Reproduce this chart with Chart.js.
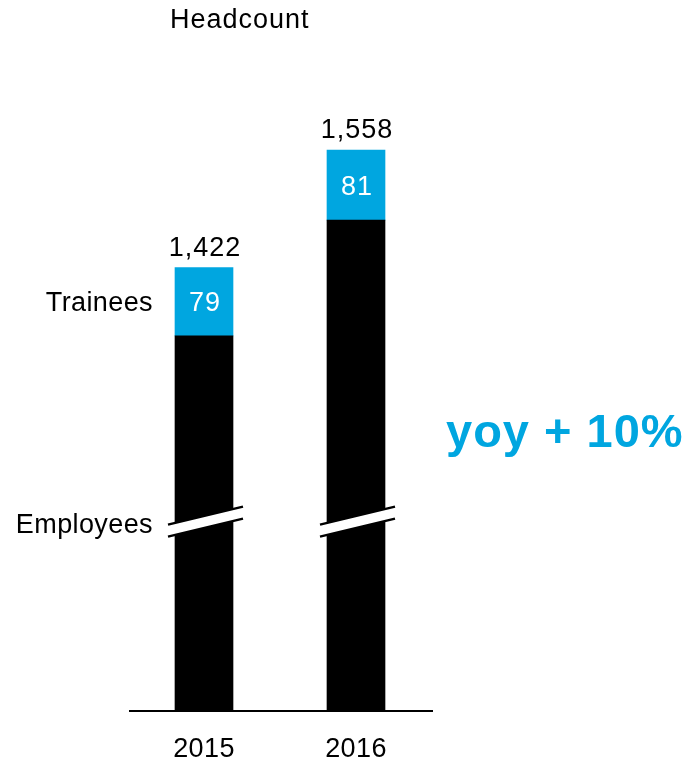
<!DOCTYPE html>
<html>
<head>
<meta charset="utf-8">
<script src="https://cdn.jsdelivr.net/npm/chart.js@4"></script>
<style>
  html, body { margin: 0; padding: 0; background: #fff; }
  #wrap { width: 689px; height: 764px; position: relative; }
</style>
</head>
<body>
<div id="wrap"><canvas id="headcount"></canvas></div>
<script>
const years = ['2015', '2016'];
const employees = [1343, 1477];
const trainees = [79, 81];
const totals = [1422, 1558];
const growthLabel = 'yoy + 10%';

const blue = '#00a6e0';
const font = '"Liberation Sans", Arial, sans-serif';
// axis starts here, the gap below is shown with a break mark
const axisMin = 909;
const axisMax = 1616;
const breakValue = 1127;

const fmt = n => n.toLocaleString('en-US');

const labelsPlugin = {
  id: 'labels',
  afterDatasetsDraw(chart) {
    const ctx = chart.ctx;
    const y = chart.scales.y;
    const area = chart.chartArea;
    const empMeta = chart.getDatasetMeta(0);
    const trMeta = chart.getDatasetMeta(1);
    ctx.save();

    // base line
    ctx.strokeStyle = '#000';
    ctx.lineWidth = 2;
    ctx.beginPath();
    ctx.moveTo(area.left + 1, area.bottom);
    ctx.lineTo(area.right + 1, area.bottom);
    ctx.stroke();

    // axis break over each bar
    const by = y.getPixelForValue(breakValue);
    empMeta.data.forEach(bar => {
      const x0 = bar.x - bar.width / 2 - 7;
      const x1 = bar.x + bar.width / 2 + 10;
      const rise = 18;
      ctx.fillStyle = '#fff';
      ctx.beginPath();
      ctx.moveTo(x0, by + 5 + rise / 2);
      ctx.lineTo(x1, by + 5 - rise / 2);
      ctx.lineTo(x1, by - 7 - rise / 2);
      ctx.lineTo(x0, by - 7 + rise / 2);
      ctx.closePath();
      ctx.fill();
      ctx.strokeStyle = '#000';
      ctx.lineWidth = 2.5;
      ctx.beginPath();
      ctx.moveTo(x0, by - 7 + rise / 2);
      ctx.lineTo(x1, by - 7 - rise / 2);
      ctx.moveTo(x0, by + 5 + rise / 2);
      ctx.lineTo(x1, by + 5 - rise / 2);
      ctx.stroke();
    });

    ctx.font = '27px ' + font;
    ctx.letterSpacing = '1px';
    ctx.textAlign = 'center';

    // totals above, trainee counts inside
    trMeta.data.forEach((bar, i) => {
      ctx.fillStyle = '#000';
      ctx.textBaseline = 'alphabetic';
      ctx.fillText(fmt(totals[i]), bar.x + 1, y.getPixelForValue(totals[i]) - 12);
      ctx.fillStyle = '#fff';
      ctx.textBaseline = 'middle';
      ctx.fillText(String(trainees[i]), bar.x + 1, (bar.y + bar.base) / 2 + 2);
    });

    ctx.textAlign = 'left';
    ctx.fillStyle = '#000';
    ctx.fillText('Headcount', 170, 21);

    // years below, series names on the left
    ctx.letterSpacing = '0.4px';
    ctx.textAlign = 'center';
    ctx.textBaseline = 'alphabetic';
    trMeta.data.forEach((bar, i) => {
      ctx.fillText(years[i], bar.x, area.bottom + 46);
    });

    ctx.textAlign = 'right';
    ctx.textBaseline = 'middle';
    const tr0 = trMeta.data[0];
    ctx.fillText('Trainees', 153, (tr0.y + tr0.base) / 2 + 2);
    ctx.fillText('Employees', 153, by + 3);

    ctx.textAlign = 'left';
    ctx.letterSpacing = '1px';
    ctx.fillStyle = blue;
    ctx.font = 'bold 47px ' + font;
    ctx.fillText(growthLabel, 446, 434);
    ctx.restore();
  }
};

new Chart(document.getElementById('headcount'), {
  type: 'bar',
  data: {
    labels: years,
    datasets: [
      { label: 'Employees', data: employees, backgroundColor: '#000' },
      { label: 'Trainees', data: trainees, backgroundColor: blue }
    ]
  },
  options: {
    responsive: true,
    maintainAspectRatio: false,
    animation: false,
    layout: { padding: { left: 128, right: 257, top: 100, bottom: 53 } },
    datasets: { bar: { barThickness: 58, borderWidth: 0 } },
    scales: {
      x: { stacked: true, display: false },
      y: { stacked: true, display: false, min: axisMin, max: axisMax }
    },
    plugins: {
      legend: { display: false },
      tooltip: { enabled: false },
      title: { display: false }
    }
  },
  plugins: [labelsPlugin]
});
</script>
</body>
</html>
